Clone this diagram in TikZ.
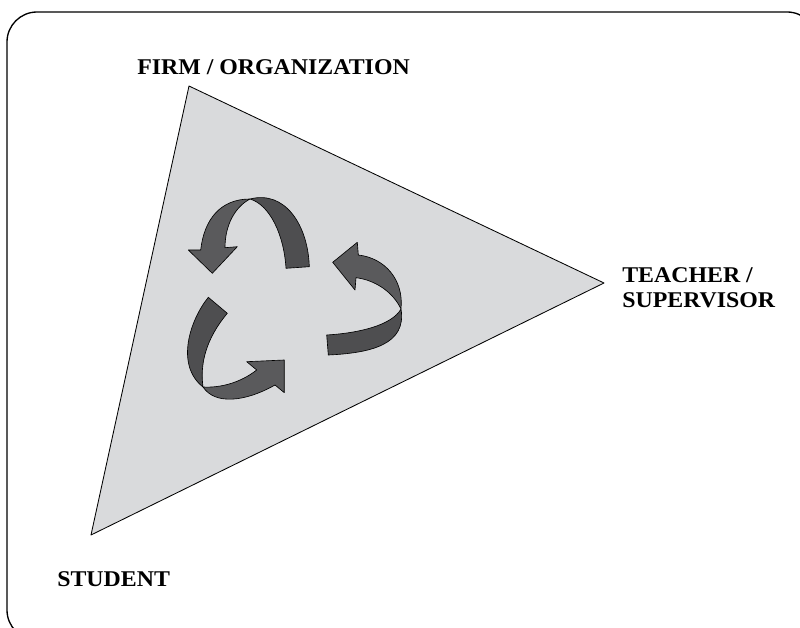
\documentclass[tikz,border=0pt]{standalone}
\usepackage{fontspec}
\setmainfont{Liberation Serif}[FakeStretch=1.06]
\usepackage{tikz}

\definecolor{paneGray}{RGB}{217,218,220}
\definecolor{ribbonLight}{RGB}{90,90,92}
\definecolor{ribbonDark}{RGB}{78,78,80}

\begin{document}
\begin{tikzpicture}[x=0.025cm,y=-0.025cm,
		lab/.style={font=\fontsize{16}{17.8}\selectfont\bfseries,inner sep=0pt,anchor=base west},
		front/.style={fill=ribbonLight,draw=black,line width=0.45pt,line join=round},
		back/.style={fill=ribbonDark,draw=black,line width=0.45pt,line join=round}]
				\useasboundingbox (0,0) rectangle (800,628);
				\clip (0,0) rectangle (800,628);
				\draw[line width=0.95pt,rounded corners=0.75cm] (7,12) rectangle (817,640);
				
				\coordinate (firm) at (189,86);
				\coordinate (teacher) at (604,283);
				\coordinate (student) at (91,535);
				\draw[fill=paneGray,line width=0.6pt,line join=round] (firm) -- (teacher) -- (student) -- cycle;
				
				\node (firmlab) at (137,75) [lab] {FIRM / ORGANIZATION};
				\node (teacherlab) at (622,308) [lab,align=left] {TEACHER /\\SUPERVISOR};
				\node (studentlab) at (57,586) [lab] {STUDENT};
				
				\draw[back] (250,199) .. controls (285,190) and (308,225) .. (309.3,266.7) -- (286,268.3) .. controls (284,235) and (270,205) .. (250,199) -- cycle;
				\draw[front] (200.7,250) .. controls (204,220) and (220,199) .. (250,199) .. controls (235,207) and (225,225) .. (225,247.7) -- (237.3,246.7) -- (212.3,273.3) -- (188.3,250) -- cycle;
				
				\draw[back] (401,309) .. controls (407,345) and (370,353) .. (328.3,355) -- (326.7,335) .. controls (360,333) and (392,325) .. (401,309) -- cycle;
				\draw[front] (358.3,255) .. controls (385,258) and (404,280) .. (401,309) .. controls (393,292) and (375,280) .. (356,277.7) -- (355,290) -- (332.7,262.3) -- (357.3,242.3) -- cycle;
				
				\draw[back] (208.3,297.3) .. controls (190,320) and (175,365) .. (203,387) .. controls (200,365) and (205,340) .. (227.3,313.3) -- cycle;
				\draw[front] (203,387) .. controls (215,405) and (245,402) .. (275,385) -- (284.3,392.7) -- (284.3,360) -- (246.7,361.7) -- (256.7,370) .. controls (240,383) and (220,388) .. (203,387) -- cycle;
			\end{tikzpicture}
\end{document}
